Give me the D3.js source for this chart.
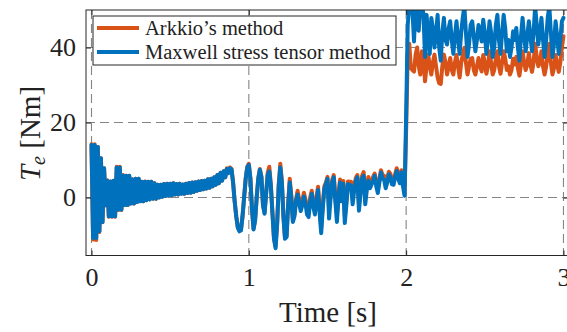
<!DOCTYPE html>
<html><head><meta charset="utf-8">
<script src="https://cdn.jsdelivr.net/npm/d3@7"></script>
<style>
body{margin:0;background:#fff}
svg{display:block}
text{font-family:"Liberation Serif","Times New Roman",serif;fill:#222}
</style>
</head><body><svg id="c" width="567" height="332"></svg>
<script>
// sample spacing of the time series [s]
const dt = 0.01;

// Electromagnetic torque Te [Nm] by Arkkio's method (sampled every dt from t = 0)
const arkkio = [
 14.2,-11.2,14.2,-11.3,13.5,-9.2,10.5,-6.6,7.8,-2.1,
 4.6,-5.1,4.3,-5.1,4.5,-5.1,8.2,-3.3,8.2,-3.3,
 6.0,-2.0,5.8,-2.0,5.8,-1.6,4.9,-1.6,5.0,-1.2,
 5.0,-1.0,4.2,-1.0,4.3,-0.7,4.2,-0.5,4.2,-0.3,
 3.8,-0.3,3.4,0.0,3.4,0.2,3.6,0.4,3.7,0.5,
 3.7,0.6,3.8,0.8,3.6,0.8,3.7,1.0,3.5,1.0,
 3.7,1.2,3.9,1.3,4.0,1.5,4.1,1.8,4.3,2.0,
 4.4,2.2,4.5,2.4,4.9,2.6,5.0,3.0,5.4,3.4,
 6.0,3.8,6.6,4.5,7.0,5.4,7.8,6.6,8.0,7.6,
 4.0,-1.0,-5.0,-8.0,-8.8,-8.6,-5.0,0.0,5.0,8.2,
 9.0,5.2,-3.0,-8.3,-6.0,0.0,5.2,7.6,5.6,-2.0,
 -4.0,1.2,6.6,8.2,3.5,-4.0,-10.8,-13.0,-7.0,3.5,
 9.0,4.5,-5.0,-10.8,-10.2,-1.5,5.0,0.5,-6.0,-4.5,
 -0.5,1.8,-0.5,-2.5,-1.0,1.3,-0.5,-3.0,-4.0,0.0,
 1.8,-1.5,-3.5,0.0,2.9,-3.0,-8.0,-2.0,3.0,4.0,
 5.5,-3.0,1.0,4.7,6.0,0.0,-4.5,1.0,4.8,0.5,
 4.4,-5.0,-1.0,4.3,4.2,4.2,0.0,3.0,5.2,6.0,
 -2.0,2.0,5.8,6.8,0.0,3.0,5.5,3.5,4.5,5.5,
 6.4,4.0,2.5,5.0,7.3,6.0,5.8,3.5,5.0,6.9,
 6.3,4.5,4.5,6.2,7.8,6.0,5.0,7.3,4.0,1.2,
 18,38,41,34.5,34,33.6,38,40,35,32.8,
 39,37,31,35,38.1,35,32.8,36,38.1,35,
 32,30.5,30.3,35,38.1,36,32.8,35,37.2,34,
 32.8,36,38,35,32,36,38,39.9,36,32.8,
 35,37,37.2,34,32.8,35,37.2,35,33.6,38,
 36,33,35,39,36,32.8,34,37,39,35,
 33,36,39,37,34,35,32.8,34,37,35.5,
 37.5,34.5,32.5,35.5,39,36,34,35.5,38.5,35.5,
 33.5,36,41,37.5,35,36,39,35,32.8,35,
 38.5,41,36,32.8,34.5,38,35.5,33.5,36,40,
 43
];

// Electromagnetic torque Te [Nm] by the Maxwell stress tensor method
const maxwell = [
 14.0,-10.8,14.0,-10.8,13.5,-9.0,10.5,-6.5,7.8,-2.0,
 4.5,-5.0,4.3,-5.0,4.5,-5.0,8.0,-3.2,8.0,-3.2,
 5.8,-2.0,5.8,-2.0,5.8,-1.6,4.8,-1.6,5.0,-1.2,
 5.0,-1.0,4.2,-1.0,4.2,-0.7,4.2,-0.5,4.2,-0.3,
 3.8,-0.3,3.4,0.0,3.4,0.2,3.6,0.4,3.7,0.5,
 3.7,0.6,3.8,0.8,3.6,0.8,3.7,1.0,3.5,1.0,
 3.7,1.2,3.9,1.3,4.0,1.5,4.1,1.8,4.3,2.0,
 4.4,2.2,4.5,2.4,4.9,2.6,5.0,3.0,5.4,3.4,
 6.0,3.8,6.6,4.5,7.0,5.4,7.6,6.5,7.8,7.5,
 4.0,-1.0,-5.0,-8.0,-9.0,-8.8,-5.0,0.0,5.0,8.0,
 8.7,5.0,-3.0,-8.5,-6.0,0.0,5.0,7.4,5.5,-2.0,
 -4.3,1.0,6.0,7.0,3.0,-4.0,-11.0,-13.5,-7.0,3.0,
 8.0,4.0,-5.0,-11.0,-10.5,-2.0,4.0,0.0,-6.5,-5.0,
 -1.0,0.8,-1.5,-3.6,-2.0,0.3,-1.5,-4.5,-5.2,-1.0,
 1.0,-2.5,-4.5,-1.0,2.0,-4.0,-9.5,-3.0,2.3,3.5,
 5.0,-5.6,0.0,4.0,5.4,-1.0,-6.5,0.0,4.0,-1.0,
 3.7,-6.8,-2.0,3.6,3.4,3.2,-1.8,2.0,4.5,5.4,
 -3.5,1.0,5.0,5.8,-1.8,2.0,4.5,2.5,3.5,4.5,
 5.8,3.0,1.2,4.0,6.7,5.0,4.8,2.5,4.0,6.2,
 5.5,3.5,3.4,5.5,7.1,5.0,3.8,6.7,3.0,0.5,
 22,46,51,51,50,41.6,51,45,44.5,51,
 51,49,37.5,48.7,43,38.3,47.9,45,40,44,
 48.7,40,36.5,44,47.9,42,40.8,45,47,42,
 38.3,43,47,42,38.3,44,48,51,44,37.5,
 41,46,47,43,39,42,46,44,41.6,47.4,
 44,38.3,42,47,44,37.5,40,46,48.7,42,
 38.3,44,48.7,45,39,42,37.5,40,44.3,42,
 45.2,40,36.5,43,47.9,43,39,43,47,43,
 39,44,51,46,40.8,44,47.9,42,37.5,42,
 48,51,44,37.5,41,47,43,38.3,42,47,
 47.9
];

const seriesNames = ["Arkkio\u2019s method", "Maxwell stress tensor method"];
const seriesColors = ["#D95319", "#0072BD"];
const xTicks = [0, 1, 2, 3];
const yTicks = [0, 20, 40];
const xDomain = [-0.035, 3.032];
const yDomain = [-15.45, 50];

const svg = d3.select("#c");
const L = 86, T = 10, R = 568.5, B = 255.5;
const x = d3.scaleLinear().domain(xDomain).range([L, R]);
const y = d3.scaleLinear().domain(yDomain).range([B, T]);
const axisColor = "#262626";
const serif = '"Liberation Serif","Times New Roman",serif';

// grid
const grid = svg.append("g").attr("stroke", "#858585").attr("stroke-width", 1.1)
  .attr("stroke-dasharray", "9,5").attr("fill", "none");
grid.selectAll("line.gx").data(xTicks).join("line").attr("class", "gx")
  .attr("x1", d => x(d)).attr("x2", d => x(d)).attr("y1", T).attr("y2", B);
grid.selectAll("line.gy").data(yTicks).join("line").attr("class", "gy")
  .attr("y1", d => y(d)).attr("y2", d => y(d)).attr("x1", L).attr("x2", R);

// data
svg.append("defs").append("clipPath").attr("id", "clip")
  .append("rect").attr("x", L).attr("y", T).attr("width", R - L).attr("height", B - T);
const series = [arkkio, maxwell];
const line = d3.line().x((d, i) => x(i * dt)).y(d => y(d));
const dataG = svg.append("g").attr("clip-path", "url(#clip)");
series.forEach((s, k) => {
  dataG.append("path").datum(s).attr("d", line).attr("fill", "none")
    .attr("stroke", seriesColors[k]).attr("stroke-width", 4)
    .attr("stroke-linejoin", "round").attr("stroke-linecap", "round");
});

// axes (ticks inward, MATLAB style)
const fs = 26;
const ax = svg.append("g").attr("transform", `translate(0,${B})`)
  .call(d3.axisBottom(x).tickValues(xTicks).tickFormat(d3.format("d")).tickSizeInner(-5).tickSizeOuter(0).tickPadding(12.5));
const ay = svg.append("g").attr("transform", `translate(${L},0)`)
  .call(d3.axisLeft(y).tickValues(yTicks).tickFormat(d3.format("d")).tickSizeInner(-5).tickSizeOuter(0).tickPadding(10));
const axTop = svg.append("g").attr("transform", `translate(0,${T})`)
  .call(d3.axisTop(x).tickValues(xTicks).tickFormat("").tickSizeInner(-5).tickSizeOuter(0));
const ayRight = svg.append("g").attr("transform", `translate(${R},0)`)
  .call(d3.axisRight(y).tickValues(yTicks).tickFormat("").tickSizeInner(-5).tickSizeOuter(0));
[ax, ay, axTop, ayRight].forEach(g => {
  g.attr("font-family", serif);
  g.select(".domain").remove();
  g.selectAll("line").attr("stroke", axisColor).attr("stroke-width", 1);
  g.selectAll("text").attr("font-size", fs).attr("fill", "#222").style("font-family", serif);
});
svg.append("rect").attr("x", L).attr("y", T).attr("width", R - L).attr("height", B - T)
  .attr("fill", "none").attr("stroke", axisColor).attr("stroke-width", 1);

// axis labels
svg.append("text").attr("x", 328).attr("y", 322).attr("text-anchor", "middle")
  .attr("font-size", 29).style("font-family", serif).text("Time [s]");
const yl = svg.append("text").attr("transform", "translate(40,133.5) rotate(-90)")
  .attr("text-anchor", "middle").attr("font-size", 29).style("font-family", serif);
yl.append("tspan").attr("font-style", "italic").text("T");
yl.append("tspan").attr("font-style", "italic").attr("font-size", 20).attr("dy", 5).text("e");
yl.append("tspan").attr("dy", -5).text(" [Nm]");

// legend
const lg = svg.append("g");
lg.append("rect").attr("x", 93).attr("y", 16).attr("width", 303).attr("height", 49)
  .attr("fill", "#fff").attr("stroke", axisColor).attr("stroke-width", 1);
seriesNames.forEach((n, k) => {
  const yy = 28 + k * 24;
  lg.append("line").attr("x1", 97).attr("x2", 139).attr("y1", yy).attr("y2", yy)
    .attr("stroke", seriesColors[k]).attr("stroke-width", 4);
  lg.append("text").attr("x", 145).attr("y", yy + 6.5).attr("font-size", 20.5)
    .style("font-family", serif).text(n);
});
</script></body></html>
